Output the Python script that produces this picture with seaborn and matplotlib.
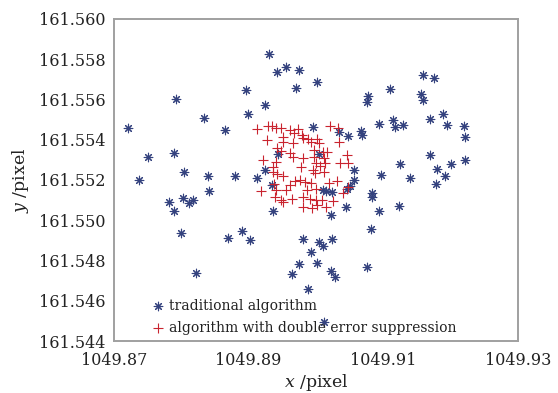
"""Scatter of centroid estimates: traditional vs double error suppression"""

import matplotlib as mpl
import matplotlib.pyplot as plt
import pandas as pd
import seaborn as sns

mpl.use("agg")

# traditional algorithm (pixel coordinates)
trad_x = [
    1049.89297, 1049.89416, 1049.89549, 1049.89742, 1049.90010, 1049.88964,
    1049.89702, 1049.87916, 1049.89242, 1049.88994, 1049.88332, 1049.87208,
    1049.88644, 1049.89950, 1049.87500, 1049.87891, 1049.89440, 1049.90048,
    1049.88039, 1049.88396, 1049.88797, 1049.89128, 1049.87367, 1049.89242,
    1049.91584, 1049.91756, 1049.91103, 1049.90776, 1049.90761, 1049.91554,
    1049.91593, 1049.91890, 1049.91692, 1049.91949, 1049.92201, 1049.92216,
    1049.90939, 1049.91147, 1049.91177, 1049.91296, 1049.90663, 1049.90687,
    1049.90479, 1049.90345, 1049.91692, 1049.91247, 1049.92008, 1049.92207,
    1049.91800, 1049.91910, 1049.90964, 1049.91395, 1049.90564, 1049.91781,
    1049.90826, 1049.90831, 1049.91227, 1049.90939, 1049.90440, 1049.90222,
    1049.90816, 1049.90761, 1049.90227, 1049.90281, 1049.88406, 1049.87817,
    1049.88025, 1049.88118, 1049.88177, 1049.87891, 1049.87990, 1049.88693,
    1049.88901, 1049.89019, 1049.89356, 1049.89806, 1049.90047, 1049.90108,
    1049.90237, 1049.89925, 1049.89750, 1049.90017, 1049.89646, 1049.89876,
    1049.88213, 1049.90118, 1049.90108, 1049.90559, 1049.89342, 1049.90504,
    1049.90464, 1049.90155, 1049.90237,
]
trad_y = [
    161.55825, 161.55737, 161.55760, 161.55745, 161.55688, 161.55647,
    161.55657, 161.55602, 161.55573, 161.55529, 161.55508, 161.55458,
    161.55447, 161.55463, 161.55314, 161.55333, 161.55328, 161.55328,
    161.55240, 161.55222, 161.55222, 161.55210, 161.55202, 161.55250,
    161.55720, 161.55708, 161.55652, 161.55619, 161.55586, 161.55627,
    161.55599, 161.55526, 161.55502, 161.55475, 161.55470, 161.55415,
    161.55477, 161.55497, 161.55463, 161.55473, 161.55445, 161.55422,
    161.55420, 161.55440, 161.55323, 161.55278, 161.55281, 161.55298,
    161.55253, 161.55221, 161.55227, 161.55212, 161.55250, 161.55179,
    161.55114, 161.55135, 161.55072, 161.55046, 161.55064, 161.55025,
    161.54958, 161.54768, 161.54749, 161.54718, 161.55144, 161.55089,
    161.55112, 161.55084, 161.55102, 161.55044, 161.54938, 161.54912,
    161.54949, 161.54902, 161.55048, 161.54905, 161.54893, 161.54874,
    161.54905, 161.54842, 161.54781, 161.54789, 161.54731, 161.54657,
    161.54739, 161.54496, 161.55150, 161.55198, 161.55175, 161.55170,
    161.55154, 161.55145, 161.55139,
]

# algorithm with double error suppression
dbl_x = [
    1049.89128, 1049.89282, 1049.89346, 1049.89405, 1049.89475, 1049.89267,
    1049.89505, 1049.89514, 1049.89613, 1049.89677, 1049.89736, 1049.89787,
    1049.89811, 1049.89885, 1049.89925, 1049.90019, 1049.90048, 1049.90207,
    1049.90341, 1049.89662, 1049.89425, 1049.89613, 1049.89653, 1049.89811,
    1049.89965, 1049.90099, 1049.90167, 1049.90118, 1049.90455, 1049.89208,
    1049.89405, 1049.89365, 1049.89781, 1049.89999, 1049.90059, 1049.90133,
    1049.90356, 1049.90470, 1049.89959, 1049.90118, 1049.89365, 1049.89425,
    1049.89687, 1049.89762, 1049.89840, 1049.89921, 1049.90197, 1049.90307,
    1049.89380, 1049.89613, 1049.89183, 1049.89405, 1049.89861, 1049.89999,
    1049.89391, 1049.89480, 1049.89638, 1049.89811, 1049.89910, 1049.89999,
    1049.90010, 1049.90148, 1049.89802, 1049.89935, 1049.89514, 1049.90088,
    1049.90330, 1049.89480, 1049.89970, 1049.89984, 1049.90396, 1049.90247,
    1049.90479, 1049.89514, 1049.89554,
]
dbl_y = [
    161.55452, 161.55470, 161.55468, 161.55460, 161.55457, 161.55399,
    161.55412, 161.55390, 161.55448, 161.55435, 161.55453, 161.55424,
    161.55407, 161.55402, 161.55387, 161.55404, 161.55382, 161.55470,
    161.55389, 161.55382, 161.55360, 161.55333, 161.55316, 161.55311,
    161.55316, 161.55338, 161.55341, 161.55311, 161.55324, 161.55299,
    161.55291, 161.55266, 161.55266, 161.55283, 161.55270, 161.55283,
    161.55283, 161.55283, 161.55250, 161.55241, 161.55241, 161.55230,
    161.55197, 161.55200, 161.55192, 161.55184, 161.55187, 161.55197,
    161.55180, 161.55175, 161.55147, 161.55150, 161.55150, 161.55155,
    161.55117, 161.55101, 161.55104, 161.55117, 161.55104, 161.55101,
    161.55076, 161.55067, 161.55067, 161.55059, 161.55092, 161.55101,
    161.55457, 161.55346, 161.55349, 161.55233, 161.55134, 161.55097,
    161.55167, 161.55221, 161.55150,
]

X_TICKS = [1049.87, 1049.89, 1049.91, 1049.93]
Y_TICKS = [161.544, 161.546, 161.548, 161.550, 161.552, 161.554,
           161.556, 161.558, 161.560]

sns.set_style("white")
plt.rcParams["font.family"] = ["DejaVu Serif"]
plt.rcParams["mathtext.fontset"] = "dejavuserif"

trad = pd.DataFrame({"x": trad_x, "y": trad_y})
dbl = pd.DataFrame({"x": dbl_x, "y": dbl_y})

fig, ax = plt.subplots(figsize=(5.58, 3.93), dpi=100)
fig.subplots_adjust(left=0.2043, right=0.9283, bottom=0.1323, top=0.9517)

sns.scatterplot(data=trad, x="x", y="y", ax=ax, marker=(8, 2, 0), s=38,
                color="#34427e", linewidth=0.8, label="traditional algorithm")
sns.scatterplot(data=dbl, x="x", y="y", ax=ax, marker="+", s=58,
                color="#c9242f", linewidth=0.8,
                label="algorithm with double error suppression")

ax.set_xlim(1049.87, 1049.93)
ax.set_ylim(161.544, 161.560)
ax.set_xticks(X_TICKS)
ax.set_xticklabels([f"{t:.2f}" for t in X_TICKS])
ax.set_yticks(Y_TICKS)
ax.set_yticklabels([f"{t:.3f}" for t in Y_TICKS])
ax.tick_params(direction="in", length=5, width=1, color="#9a9a9a",
               labelsize=11.5, labelcolor="#222222")
ax.tick_params(axis="x", pad=8)
ax.tick_params(axis="y", pad=6)

for spine in ax.spines.values():
    spine.set_color("#a0a0a0")
    spine.set_linewidth(1.4)

ax.set_xlabel("$x$ /pixel", fontsize=12.5, color="#222222", labelpad=2)
ax.set_ylabel("$y$ /pixel", fontsize=12.5, color="#222222", labelpad=6)

legend = ax.legend(loc="lower left", bbox_to_anchor=(0.07, -0.01),
                   frameon=False, fontsize=10, handlelength=0.8,
                   handletextpad=0.45, labelspacing=0.55, borderaxespad=0.3)
for text in legend.get_texts():
    text.set_color("#222222")

fig.savefig("out.png", dpi=100)
plt.close(fig)
